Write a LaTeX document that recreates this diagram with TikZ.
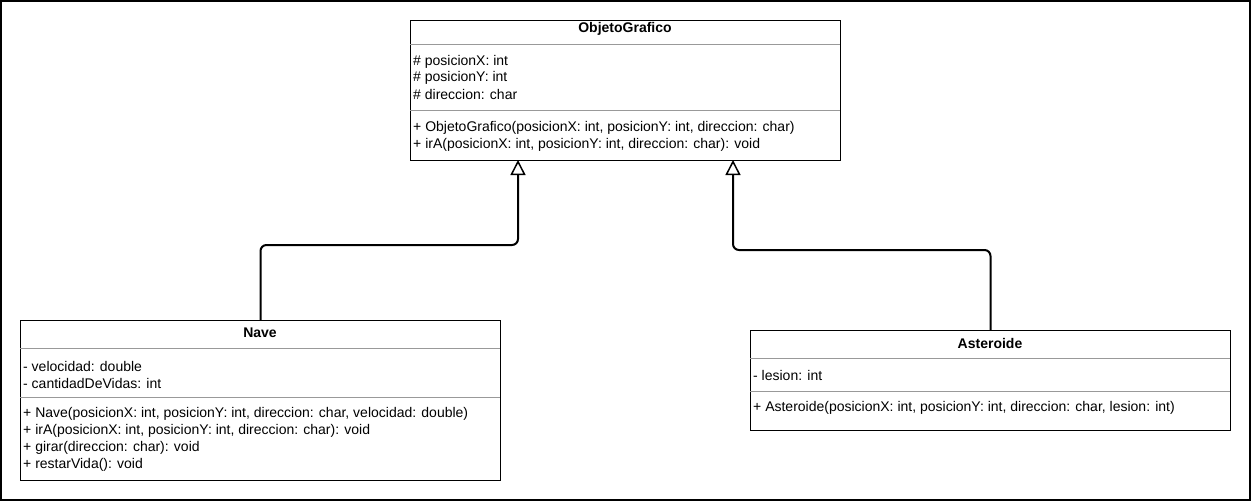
\documentclass[tikz,border=0pt]{standalone}
\usepackage{fontspec}
\setmainfont{Liberation Sans}
\usetikzlibrary{arrows.meta}
\begin{document}
\begin{tikzpicture}[x=1pt,y=-1pt,
  cls/.style={draw=black, line width=1pt, anchor=north west, inner sep=0pt, fill=white},
  sep/.style={draw=black!40, line width=1pt},
  title/.style={font=\fontsize{14}{16}\selectfont\bfseries, inner sep=0pt},
  member/.style={font=\fontsize{14}{16}\selectfont, anchor=west, inner sep=0pt},
  conn/.style={draw=black, line width=2pt, rounded corners=6pt, -{Triangle[open, width=15pt, length=15pt, line width=1.5pt]}},
  frame/.style={draw=black, line width=1.6pt}]
\useasboundingbox (0,0) rectangle (1251,501);
\draw[frame] (1,1) rectangle (1250,500);

% ObjetoGrafico
\node[cls, minimum width=430pt, minimum height=140pt] (og) at (410,20) {};
\draw[sep] (410,44) -- (840,44);
\draw[sep] (410,110) -- (840,110);
\node[title] (ogt) at (625,29) {ObjetoGrafico};
\node[member] (oga1) at (413,62) {\# posicionX: int};
\node[member] (oga2) at (413,78) {\# posicionY: int};
\node[member] (oga3) at (413,94) {\# direccion: char};
\node[member] (ogm1) at (413,128) {+ ObjetoGrafico(posicionX: int, posicionY: int, direccion: char)};
\node[member] (ogm2) at (413,145) {+ irA(posicionX: int, posicionY: int, direccion: char): void};

% Nave
\node[cls, minimum width=480pt, minimum height=160pt] (nave) at (20,320) {};
\draw[sep] (20,348) -- (500,348);
\draw[sep] (20,397) -- (500,397);
\node[title] (navet) at (260,333) {Nave};
\node[member] (nava1) at (23,366) {- velocidad: double};
\node[member] (nava2) at (23,383) {- cantidadDeVidas: int};
\node[member] (navm1) at (23,414) {+ Nave(posicionX: int, posicionY: int, direccion: char, velocidad: double)};
\node[member] (navm2) at (23,431) {+ irA(posicionX: int, posicionY: int, direccion: char): void};
\node[member] (navm3) at (23,448) {+ girar(direccion: char): void};
\node[member] (navm4) at (23,465) {+ restarVida(): void};

% Asteroide
\node[cls, minimum width=480pt, minimum height=100pt] (ast) at (750,330) {};
\draw[sep] (750,358) -- (1230,358);
\draw[sep] (750,391) -- (1230,391);
\node[title] (astt) at (990,343) {Asteroide};
\node[member] (asta1) at (753,375) {- lesion: int};
\node[member] (astm1) at (753,408) {+ Asteroide(posicionX: int, posicionY: int, direccion: char, lesion: int)};

% connectors
\coordinate (k1) at (518,245);
\coordinate (t1) at (518,160);
\coordinate (k2) at (733,250);
\coordinate (t2) at (733,160);
\draw[conn] (nave.north) |- (k1) -- (t1);
\draw[conn] (ast.north) |- (k2) -- (t2);
\end{tikzpicture}
\end{document}
